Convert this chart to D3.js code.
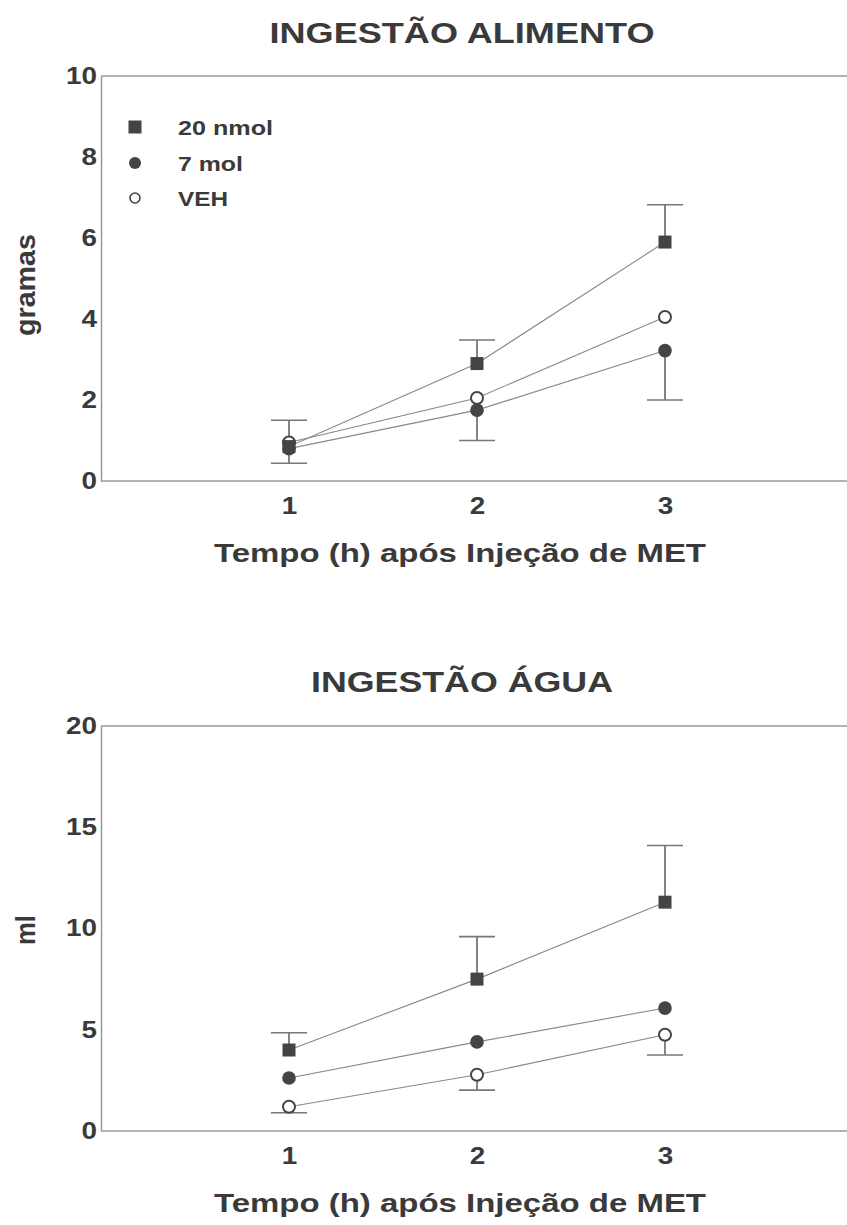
<!DOCTYPE html>
<html><head><meta charset="utf-8">
<script src="https://cdn.jsdelivr.net/npm/d3@7"></script>
<style>body{margin:0;background:#fff}svg{display:block}text{font-family:Arial,"Liberation Sans",sans-serif;font-weight:bold;fill:#3a3a3a}</style>
</head><body>
<script>
const hours = [1, 2, 3];
const seriesNames = ["20 nmol", "7 mol", "VEH"];
// Food intake (grams)
const food20 = [0.85, 2.9, 5.9];
const food7 = [0.8, 1.75, 3.22];
const foodVEH = [0.95, 2.05, 4.05];
const food20ErrUp = [1.5, 3.48, 6.82];
const food7ErrDown = [0.44, 1.0, 2.0];
// Water intake (ml)
const water20 = [4.0, 7.5, 11.3];
const water7 = [2.62, 4.4, 6.07];
const waterVEH = [1.2, 2.78, 4.75];
const water20ErrUp = [4.85, 9.6, 14.1];
const waterVEHErrDown = [0.9, 2.02, 3.75];
const foodTicks = [0, 2, 4, 6, 8, 10];
const waterTicks = [0, 5, 10, 15, 20];

const W = 847, H = 1225;
const svg = d3.select("body").append("svg").attr("width", W).attr("height", H);
const x = d3.scaleLinear().domain([0, 4]).range([101, 853]);
const markColor = "#444";

function styleTicks(sel) {
  sel.selectAll("text")
    .attr("font-size", 23).attr("fill", "#3a3a3a")
    .attr("font-family", "Arial,'Liberation Sans',sans-serif").attr("font-weight", "bold")
    .attr("textLength", function() { return 15.5 * this.textContent.length; })
    .attr("lengthAdjust", "spacingAndGlyphs");
}

function panel(cfg) {
  const y = d3.scaleLinear().domain(cfg.yDomain).range([cfg.bottom, cfg.top]);
  const g = svg.append("g");
  g.append("text").attr("x", 462).attr("y", cfg.titleY).attr("text-anchor", "middle")
    .attr("font-size", 29).attr("textLength", cfg.titleLen).attr("lengthAdjust", "spacingAndGlyphs")
    .text(cfg.title);
  g.append("line").attr("x1", x(0)).attr("x2", W).attr("y1", y(cfg.yDomain[1])).attr("y2", y(cfg.yDomain[1]))
    .attr("stroke", "#999").attr("stroke-width", 1.5);
  const yAxis = d3.axisLeft(y).tickValues(cfg.ticks).tickSize(0).tickPadding(4);
  const ya = g.append("g").attr("transform", `translate(${x(0)},0)`).call(yAxis);
  ya.select(".domain").attr("stroke", "#999").attr("stroke-width", 1.5);
  styleTicks(ya);
  const xAxis = d3.axisBottom(x).tickValues(hours).tickSize(0).tickPadding(17).tickFormat(d3.format("d"));
  const xa = g.append("g").attr("transform", `translate(0,${cfg.bottom})`).call(xAxis);
  xa.select(".domain").remove();
  g.append("line").attr("x1", x(0)).attr("x2", W).attr("y1", cfg.bottom).attr("y2", cfg.bottom)
    .attr("stroke", "#999").attr("stroke-width", 1.5);
  styleTicks(xa);
  g.append("text").attr("x", 460).attr("y", cfg.bottom + 81).attr("text-anchor", "middle")
    .attr("font-size", 25).attr("textLength", 492).attr("lengthAdjust", "spacingAndGlyphs").text("Tempo (h) após Injeção de MET");
  g.append("text").attr("transform", `translate(35,${cfg.labelY}) rotate(-90)`)
    .attr("text-anchor", "middle").attr("font-size", 27)
    .attr("textLength", cfg.labelLen).attr("lengthAdjust", "spacingAndGlyphs").text(cfg.yLabel);

  const cap = 18;
  cfg.errs.forEach(e => {
    hours.forEach((h, i) => {
      const cx = x(h), y1 = y(e.vals[i]), y2 = y(e.ends[i]);
      g.append("line").attr("x1", cx).attr("x2", cx).attr("y1", y1).attr("y2", y2).attr("stroke", "#666").attr("stroke-width", 1.6);
      g.append("line").attr("x1", cx - cap).attr("x2", cx + cap).attr("y1", y2).attr("y2", y2).attr("stroke", "#777").attr("stroke-width", 1.6);
    });
  });
  const line = d3.line().x((d, i) => x(hours[i])).y(d => y(d));
  cfg.series.forEach(s => {
    g.append("path").attr("d", line(s.vals)).attr("fill", "none").attr("stroke", "#888").attr("stroke-width", 1.1);
  });
  cfg.series.forEach(s => {
    hours.forEach((h, i) => {
      const cx = x(h), cy = y(s.vals[i]);
      if (s.shape === "square") {
        g.append("rect").attr("x", cx - 6.5).attr("y", cy - 6.5).attr("width", 13).attr("height", 13).attr("fill", markColor);
      } else if (s.shape === "filled") {
        g.append("circle").attr("cx", cx).attr("cy", cy).attr("r", 6.8).attr("fill", markColor);
      } else {
        g.append("circle").attr("cx", cx).attr("cy", cy).attr("r", 6).attr("fill", "#fff").attr("stroke", markColor).attr("stroke-width", 2);
      }
    });
  });
}

panel({
  title: "INGESTÃO ALIMENTO", titleY: 43, titleLen: 385, yLabel: "gramas", labelY: 285, labelLen: 102,
  yDomain: [0, 10], top: 76, bottom: 481, ticks: foodTicks,
  series: [{vals: foodVEH, shape: "open"}, {vals: food7, shape: "filled"}, {vals: food20, shape: "square"}],
  errs: [{vals: food20, ends: food20ErrUp}, {vals: food7, ends: food7ErrDown}]
});
panel({
  title: "INGESTÃO ÁGUA", titleY: 692, titleLen: 302, yLabel: "ml", labelY: 930, labelLen: 30,
  yDomain: [0, 20], top: 726, bottom: 1131, ticks: waterTicks,
  series: [{vals: waterVEH, shape: "open"}, {vals: water7, shape: "filled"}, {vals: water20, shape: "square"}],
  errs: [{vals: water20, ends: water20ErrUp}, {vals: waterVEH, ends: waterVEHErrDown}]
});

const legend = svg.append("g");
const shapes = ["square", "filled", "open"];
const legY = [127, 163, 198];
const legLen = [95, 65, 50];
seriesNames.forEach((n, i) => {
  const cx = 135, cy = legY[i];
  if (shapes[i] === "square") legend.append("rect").attr("x", cx - 6.5).attr("y", cy - 6.5).attr("width", 13).attr("height", 13).attr("fill", markColor);
  else if (shapes[i] === "filled") legend.append("circle").attr("cx", cx).attr("cy", cy).attr("r", 6).attr("fill", markColor);
  else legend.append("circle").attr("cx", cx).attr("cy", cy).attr("r", 5).attr("fill", "#fff").attr("stroke", markColor).attr("stroke-width", 1.6);
  legend.append("text").attr("x", 178).attr("y", cy + 8).attr("font-size", 20)
    .attr("textLength", legLen[i]).attr("lengthAdjust", "spacingAndGlyphs").text(n);
});
</script>
</body></html>
